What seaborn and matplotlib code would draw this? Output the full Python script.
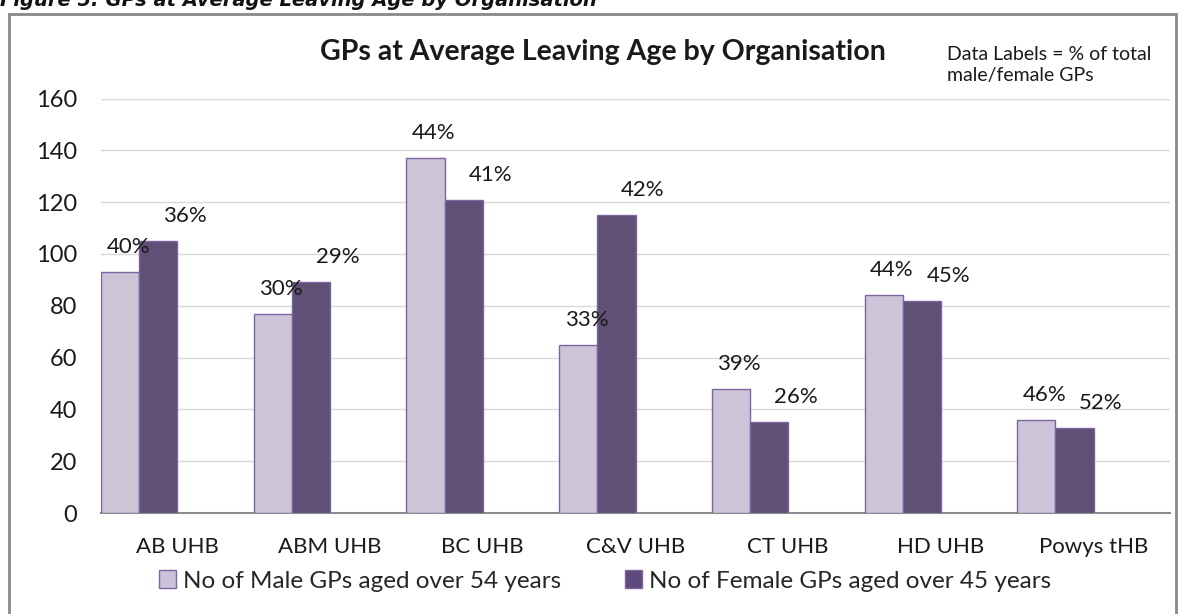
import matplotlib
matplotlib.use("Agg")
import matplotlib.pyplot as plt
from matplotlib.patches import Rectangle, Patch
import seaborn as sns
import pandas as pd

organisations = ["AB UHB", "ABM UHB", "BC UHB", "C&V UHB", "CT UHB", "HD UHB", "Powys tHB"]
male_counts = [93, 77, 137, 65, 48, 84, 36]
female_counts = [105, 89, 121, 115, 35, 82, 33]
male_pct = ["40%", "30%", "44%", "33%", "39%", "44%", "46%"]
female_pct = ["36%", "29%", "41%", "42%", "26%", "45%", "52%"]
male_name = "No of Male GPs aged over 54 years"
female_name = "No of Female GPs aged over 45 years"
y_ticks = [0, 20, 40, 60, 80, 100, 120, 140, 160]

W, H, DPI = 1179, 614, 100
sns.set_theme(style="white")
plt.rcParams["font.family"] = ["Lato", "DejaVu Sans"]

df = pd.DataFrame({
    "org": organisations * 2,
    "series": [male_name] * len(organisations) + [female_name] * len(organisations),
    "value": male_counts + female_counts,
})

male_color = "#CCC1DA"
female_color = "#604A7B"
edge_color = "#7E64A0"
hue_order = [male_name, female_name, "_pad1", "_pad2"]
palette = {male_name: male_color, female_name: female_color, "_pad1": "white", "_pad2": "white"}

fig = plt.figure(figsize=(W / DPI, H / DPI), dpi=DPI)
ax = fig.add_axes([101 / W, (H - 513) / H, (1170 - 101) / W, (513 - 98.6) / H])

sns.barplot(data=df, x="org", y="value", hue="series", hue_order=hue_order,
            order=organisations, palette=palette, width=1.0, dodge=True,
            edgecolor=edge_color, linewidth=1.0, legend=False, ax=ax, zorder=3)

ax.set_ylim(0, 160)
ax.set_xlim(-0.5, len(organisations) - 0.5)
ax.set_yticks(y_ticks)
ax.set_xlabel("")
ax.set_ylabel("")
ax.grid(axis="y", color="#D9D9D9", linewidth=1.0, zorder=0)
ax.grid(axis="x", visible=False)
for s in ["left", "right", "top"]:
    ax.spines[s].set_visible(False)
ax.spines["bottom"].set_color("#8C8C8C")
ax.spines["bottom"].set_linewidth(1.5)
ax.tick_params(axis="y", length=0, labelsize=17, colors="#1a1a1a", pad=17)
ax.tick_params(axis="x", length=0, labelsize=16, colors="#1a1a1a", pad=17)

# data labels
for cont, labels, dx in [(ax.containers[0], male_pct, 6), (ax.containers[1], female_pct, 19)]:
    for bar, lab in zip(cont, labels):
        xc = bar.get_x() + bar.get_width() / 2
        ax.annotate(lab, (xc, bar.get_height()), xytext=(dx, 18), textcoords="offset points",
                    ha="center", va="center", fontsize=16, color="#1a1a1a")

# titles
fig.text(603 / W, 1 - 52 / H, "GPs at Average Leaving Age by Organisation",
         ha="center", va="center", fontsize=20.5, fontweight="bold", color="#1a1a1a")
fig.text(947 / W, 1 - 65 / H, "Data Labels = % of total\nmale/female GPs",
         ha="left", va="center", fontsize=14, color="#1a1a1a", linespacing=1.35)
fig.text(0, 1 - 6.5 / H, "Figure 5: GPs at Average Leaving Age by Organisation",
         ha="left", va="baseline", fontsize=14, fontweight="bold", fontstyle="italic",
         family="DejaVu Sans", color="#111111")

# chart border
fig.patches.append(Rectangle((9 / W, -0.05), (1176 - 9) / W, 1.05 - 14 / H,
                             transform=fig.transFigure, fill=False,
                             edgecolor="#898989", linewidth=2))

handles = [Patch(facecolor=male_color, edgecolor=edge_color, label=male_name),
           Patch(facecolor=female_color, edgecolor=edge_color, label=female_name)]
fig.legend(handles=handles, loc="center", bbox_to_anchor=(605 / W, 1 - 581 / H), ncol=2,
           frameon=False, fontsize=17.5, handlelength=0.7, handleheight=0.7,
           handletextpad=0.3, columnspacing=2.6)

fig.savefig("out.png", dpi=DPI)
